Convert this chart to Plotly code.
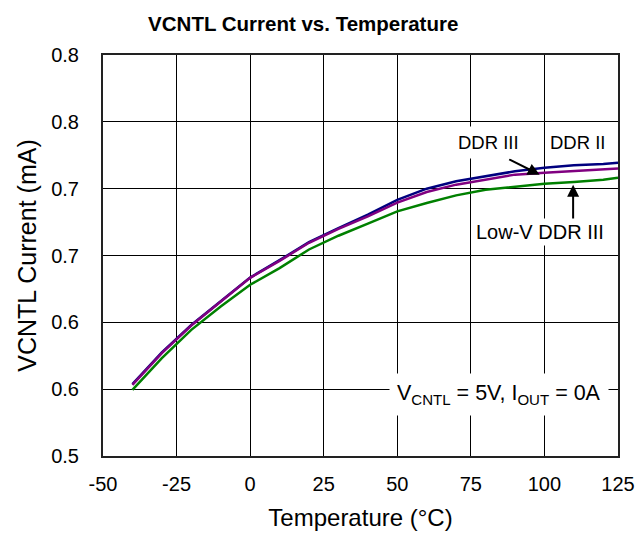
import plotly.graph_objects as go

temps = [-40, -30, -20, -10, 0, 10, 20, 30, 40, 50, 60, 70, 80, 90, 100, 110, 120, 125]
ddr2 = [0.5538, 0.5775, 0.5980, 0.6158, 0.6335, 0.6465, 0.6600, 0.6705, 0.6805, 0.6916,
        0.7000, 0.7055, 0.7092, 0.7130, 0.7156, 0.7175, 0.7185, 0.7193]
ddr3 = [0.5532, 0.5770, 0.5976, 0.6156, 0.6333, 0.6460, 0.6595, 0.6700, 0.6792, 0.6895,
        0.6975, 0.7030, 0.7067, 0.7105, 0.7120, 0.7130, 0.7142, 0.7150]
lowv_ddr3 = [0.5494, 0.5732, 0.5944, 0.6118, 0.6281, 0.6406, 0.6545, 0.6648, 0.6738, 0.6830,
             0.6893, 0.6950, 0.6992, 0.7017, 0.7037, 0.7050, 0.7067, 0.7082]

x_ticks = [-50, -25, 0, 25, 50, 75, 100, 125]
x_tick_labels = ["-50", "-25", "0", "25", "50", "75", "100", "125"]
y_ticks = [0.50, 0.55, 0.60, 0.65, 0.70, 0.75, 0.80]
y_tick_labels = ["0.5", "0.6", "0.6", "0.7", "0.7", "0.8", "0.8"]

FONT = "Liberation Sans, Arial, sans-serif"

fig = go.Figure()
fig.add_trace(go.Scatter(x=temps, y=lowv_ddr3, mode="lines", line=dict(color="#008000", width=2.5),
                         name="Low-V DDR III"))
fig.add_trace(go.Scatter(x=temps, y=ddr2, mode="lines", line=dict(color="#00007f", width=2.5),
                         name="DDR II"))
fig.add_trace(go.Scatter(x=temps, y=ddr3, mode="lines", line=dict(color="#800080", width=2.5),
                         name="DDR III"))

fig.update_layout(
    width=637, height=538,
    margin=dict(l=103, r=19, t=55, b=82, autoexpand=False),
    paper_bgcolor="white", plot_bgcolor="white",
    showlegend=False,
    font=dict(family=FONT, size=20, color="black"),
    title=dict(text="<b>VCNTL Current vs. Temperature</b>", x=0.476, xanchor="center",
               y=0.955, yanchor="middle", font=dict(size=20.5, family=FONT, color="black")),
)
fig.update_xaxes(range=[-50, 125], tickvals=x_ticks, ticktext=x_tick_labels, showgrid=True,
                 gridcolor="black", gridwidth=1, automargin=False,
                 showline=True, linecolor="#222", linewidth=2, mirror=True, zeroline=False,
                 ticks="", ticklabelstandoff=9,
                 title=dict(text="Temperature (°C)", font=dict(size=24), standoff=15),
                 tickfont=dict(size=20))
fig.update_yaxes(range=[0.5, 0.8], tickvals=y_ticks, ticktext=y_tick_labels, showgrid=True,
                 gridcolor="black", gridwidth=1, automargin=False,
                 showline=True, linecolor="#222", linewidth=2,
                 mirror=True, zeroline=False, ticks="", ticklabelstandoff=18,
                 title=dict(text="VCNTL Current (mA)", font=dict(size=25), standoff=7),
                 tickfont=dict(size=20))

# arrows
fig.add_annotation(x=98.4, y=0.7105, ax=-32, ay=-16, xref="x", yref="y", text="",
                   showarrow=True, arrowhead=2, arrowsize=1.2, arrowwidth=2, arrowcolor="black")
fig.add_annotation(x=109.75, y=0.7030, ax=0, ay=36, xref="x", yref="y", text="",
                   showarrow=True, arrowhead=2, arrowsize=1.2, arrowwidth=2, arrowcolor="black")
# labels
fig.add_annotation(x=81.1, y=0.7344, text="DDR III", showarrow=False, bgcolor="white",
                   font=dict(size=18.5), borderpad=5)
fig.add_annotation(x=111.3, y=0.7344, text="DDR II", showarrow=False,
                   font=dict(size=18.5))
fig.add_annotation(x=98.4, y=0.6678, text="Low-V DDR III", showarrow=False, bgcolor="white",
                   font=dict(size=20), borderpad=2)
fig.add_annotation(x=84.6, y=0.5457, text="V<sub>CNTL</sub> = 5V, I<sub>OUT</sub> = 0A",
                   showarrow=False, bgcolor="white", font=dict(size=21.5), borderpad=7)

fig.write_html("out.html", config={"displayModeBar": False},
               post_script="document.body.style.margin='0';document.body.style.overflow='hidden';")
